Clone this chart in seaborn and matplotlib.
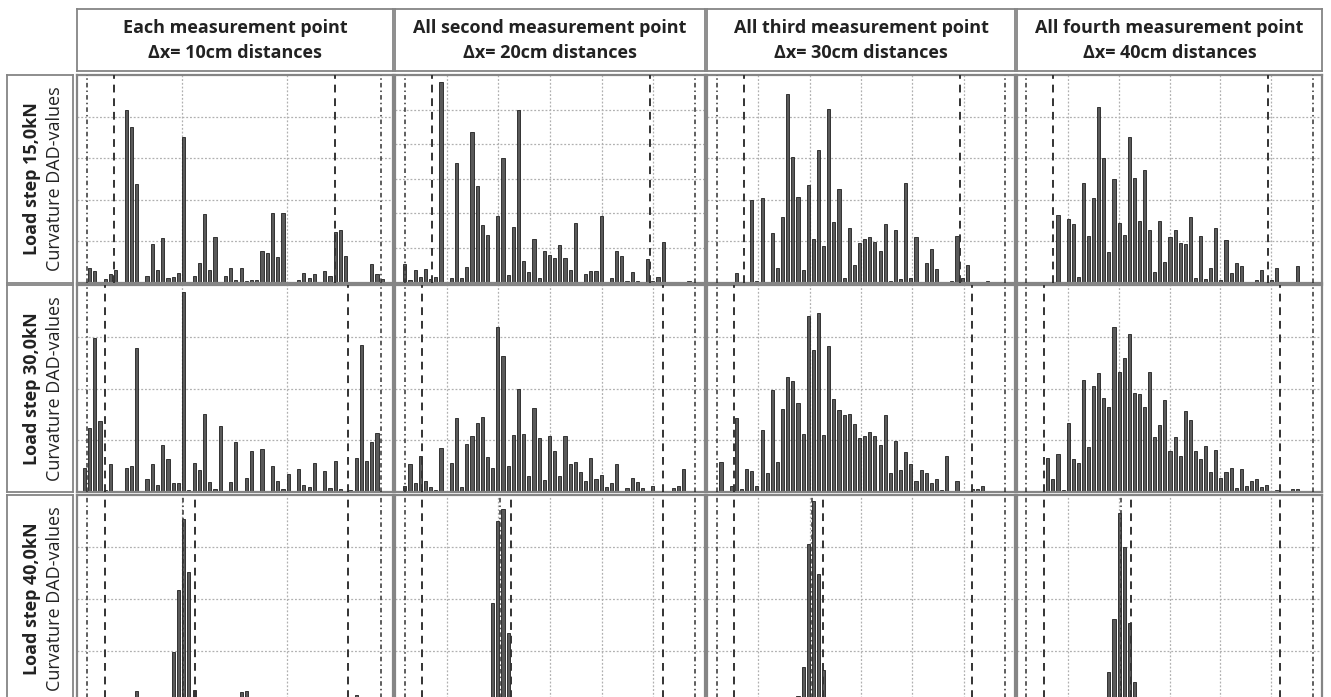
import numpy as np
import pandas as pd
import seaborn as sns
import matplotlib.pyplot as plt

sns.set_theme(style='white')
plt.rcParams['font.family'] = ['Open Sans', 'DejaVu Sans']

col_titles = ['Each measurement point\nΔx= 10cm distances',
              'All second measurement point\nΔx= 20cm distances',
              'All third measurement point\nΔx= 30cm distances',
              'All fourth measurement point\nΔx= 40cm distances']
load_steps = ['Load step 15,0kN', 'Load step 30,0kN', 'Load step 40,0kN']
ylab = 'Curvature DAD-values'

# curvature DAD values, bar by bar
ls15_dx10 = [0.02, 0.36, 0.28, 0, 0.1, 0.2, 0.3, 0, 4.15, 3.74,
             2.37, 0, 0.15, 0.94, 0.3, 1.07, 0.12, 0.14, 0.23, 3.5,
             0, 0.15, 0.48, 1.65, 0.31, 1.1, 0.02, 0.15, 0.36, 0.06,
             0.36, 0.04, 0.06, 0.06, 0.77, 0.72, 1.67, 0.63, 1.67, 0.02,
             0, 0.07, 0.23, 0.11, 0.22, 0, 0.27, 0.15, 1.23, 1.27,
             0.65, 0.02, 0, 0, 0, 0.44, 0.2, 0.1]
ls15_dx20 = [0.55, 0.09, 0.38, 0.16, 0.41, 0.11, 0.16, 5.79, 0, 0.14,
             3.47, 0.13, 0.44, 4.36, 2.79, 1.67, 1.38, 0, 1.92, 3.59,
             0.21, 1.6, 4.99, 0.64, 0.31, 1.25, 0.13, 0.91, 0.79, 0.71,
             1.08, 0.71, 0.36, 1.72, 0, 0.26, 0.34, 0.33, 1.92, 0,
             0.14, 0.91, 0.77, 0.04, 0.31, 0.04, 0, 0.68, 0.04, 0.16,
             1.17, 0, 0, 0, 0, 0.05]
ls15_dx30 = [0.02, 0.02, 0.02, 0.24, 0, 0, 2.0, 0.04, 2.03, 0.02,
             1.19, 0.35, 1.59, 4.54, 3.02, 2.06, 0.3, 2.35, 1.05, 3.19,
             0.89, 4.19, 1.45, 2.25, 0.12, 1.31, 0.43, 0.96, 1.06, 1.1,
             0.98, 0.77, 1.42, 0.04, 1.26, 0.1, 2.39, 0.11, 1.09, 0.02,
             0.48, 0.82, 0.32, 0.02, 0, 0.04, 1.13, 0.11, 0.42, 0.02,
             0, 0, 0.04]
ls15_dx40 = [0.02, 0, 0, 0, 0.02, 1.63, 0.02, 1.54, 1.42, 0.14,
             2.39, 1.13, 2.04, 4.22, 3.0, 0.75, 2.5, 1.44, 1.14, 3.5,
             2.52, 1.49, 2.71, 1.27, 0.25, 1.48, 0.51, 1.1, 1.28, 0.96,
             0.92, 1.59, 0.11, 1.12, 0.1, 0.35, 1.31, 0.06, 1.02, 0.23,
             0.48, 0.4, 0.02, 0.02, 0.06, 0.3, 0, 0.06, 0.36, 0,
             0, 0, 0.39]

ls30_dx10 = [0.46, 1.25, 2.98, 1.37, 0.05, 0.54, 0, 0.03, 0.46, 0.5,
             2.79, 0.01, 0.25, 0.54, 0.15, 0.92, 0.64, 0.17, 0.17, 3.86,
             0.05, 0.57, 0.43, 1.51, 0.2, 0.07, 1.28, 0.02, 0.19, 0.97,
             0.02, 0.27, 0.79, 0.02, 0.83, 0.02, 0.51, 0.21, 0.07, 0.36,
             0, 0.44, 0.14, 0.11, 0.56, 0, 0.41, 0.08, 0.61, 0.06,
             0, 0.04, 0.66, 2.85, 0.61, 0.97, 1.15, 0]
ls30_dx20 = [0.12, 0.55, 0.17, 0.71, 0.22, 0.1, 0.05, 0.85, 0, 0.57,
             1.43, 0.1, 0.94, 1.08, 1.33, 1.45, 0.69, 0.47, 3.18, 2.63,
             0.51, 1.11, 2.0, 1.13, 0.32, 1.63, 1.04, 0.23, 1.08, 0.79,
             0.32, 1.08, 0.55, 0.59, 0.4, 0.22, 0.67, 0.25, 0.33, 0.11,
             0.17, 0.55, 0, 0.09, 0.27, 0.19, 0.08, 0, 0.12, 0,
             0, 0.03, 0.08, 0.12, 0.45, 0]
ls30_dx30 = [0.59, 0.02, 0.12, 1.43, 0.07, 0.45, 0.42, 0.13, 1.21, 0.37,
             1.97, 0.59, 1.61, 2.23, 2.15, 1.72, 1.12, 3.4, 2.74, 3.46,
             1.1, 2.83, 1.8, 1.59, 1.5, 1.51, 1.32, 1.05, 1.08, 1.17,
             1.08, 0.91, 1.5, 0.38, 0.99, 0.43, 0.77, 0.55, 0.21, 0.43,
             0.37, 0.17, 0.25, 0.04, 0.71, 0.03, 0.21, 0, 0.03, 0.06,
             0.06, 0.12, 0, 0, 0.03]
ls30_dx40 = [0, 0, 0.03, 0.66, 0.25, 0.74, 0.05, 1.34, 0.65, 0.57,
             2.16, 0.88, 2.06, 2.3, 1.81, 1.64, 3.19, 2.33, 2.59, 3.05,
             1.92, 1.9, 1.65, 2.33, 1.06, 1.3, 1.79, 0.79, 1.07, 0.7,
             1.57, 1.39, 0.79, 0.65, 0.89, 0.39, 0.81, 0.28, 0.4, 0.47,
             0.08, 0.44, 0.12, 0.21, 0.25, 0.1, 0.14, 0.02, 0.05, 0.03,
             0, 0.07, 0.06]

ls40_dx10 = [0, 0, 0, 0, 0, 0, 0, 0, 0, 0,
             0.23, 0, 0, 0, 0, 0, 0, 0.97, 2.18, 3.53,
             2.51, 0.25, 0, 0, 0, 0, 0, 0, 0, 0,
             0.2, 0.23, 0, 0, 0, 0, 0, 0, 0, 0,
             0, 0, 0, 0, 0, 0, 0, 0, 0, 0,
             0, 0, 0.14, 0, 0, 0, 0, 0]
ls40_dx20 = [0, 0, 0, 0, 0, 0, 0, 0, 0, 0,
             0, 0, 0, 0, 0, 0, 0, 1.92, 3.5, 3.74,
             1.34, 0, 0, 0, 0, 0, 0, 0, 0, 0,
             0, 0, 0, 0, 0, 0, 0, 0, 0, 0,
             0, 0, 0, 0, 0, 0, 0, 0, 0, 0,
             0, 0, 0, 0, 0, 0]
ls40_dx30 = [0, 0, 0, 0, 0, 0, 0, 0, 0, 0,
             0, 0, 0, 0, 0, 0.12, 0.68, 3.05, 3.88, 2.48,
             0.63, 0, 0, 0, 0, 0, 0, 0, 0, 0,
             0, 0, 0, 0, 0, 0, 0, 0, 0, 0,
             0, 0, 0, 0, 0, 0, 0, 0, 0, 0,
             0, 0, 0]
ls40_dx40 = [0, 0, 0, 0, 0, 0, 0, 0, 0, 0,
             0, 0, 0, 0, 0, 0.59, 1.61, 3.65, 2.99, 1.54,
             0.39, 0, 0, 0, 0, 0, 0, 0, 0, 0,
             0, 0, 0, 0, 0, 0, 0, 0, 0, 0,
             0, 0, 0, 0, 0, 0, 0, 0, 0, 0,
             0, 0, 0]

data = [[ls15_dx10, ls15_dx20, ls15_dx30, ls15_dx40],
        [ls30_dx10, ls30_dx20, ls30_dx30, ls30_dx40],
        [ls40_dx10, ls40_dx20, ls40_dx30, ls40_dx40]]
y_max = [[5, 6, 5, 5], [4, 4, 4, 4], [4, 4, 4, 4]]

# marker lines, in bar units counted from the first bar
outer_dashdot = [[0.57, 56.8], [0.0, 56.1], [-0.78, 55.3], [-1.2, 55.1]]
outer_dashed = [[[5.73, 48.0], [5.3, 47.5], [4.54, 46.5], [4.1, 46.3]],
                [[3.95, 50.5], [3.4, 49.9], [2.6, 48.9], [2.2, 48.7]],
                [[3.95, 50.5], [3.4, 49.9], [2.6, 48.9], [2.2, 48.7]]]
peak_lines = [[18.9, 21.1], [18.5, 20.6], [17.7, 19.8], [17.3, 19.4]]

# layout (pixels of the original picture)
W, H = 1331, 697
col_x = [(77, 392.7), (395, 705), (707.3, 1015), (1017.3, 1321.7)]
row_y = [(75, 282.7), (285, 492.3), (495, 702.7)]
head_y = (9.3, 71)
lab_x = (7.3, 73.3)
xlims = [(-1.4, 59.0), (-1.9, 58.1), (-2.67, 57.3), (-3.0, 56.8)]
vgrid = [[18.7, 38.7], np.arange(8.1, 58, 10), np.arange(7.3, 57, 10), np.arange(6.9, 56, 10)]

frame = '#858585'
ink = '#222222'
dashed = (0, (4, 3))
dashdot = (0, (3, 2, 1, 2))


def box(x0, x1, y0, y1):
    return [x0 / W, 1 - y1 / H, (x1 - x0) / W, (y1 - y0) / H]


def frame_it(ax, lw):
    ax.set_xticks([])
    ax.set_yticks([])
    for s in ax.spines.values():
        s.set_color(frame)
        s.set_linewidth(lw)


fig = plt.figure(figsize=(W / 100, H / 100), dpi=100)

# column headers
for c, t in enumerate(col_titles):
    hax = fig.add_axes(box(col_x[c][0], col_x[c][1], *head_y))
    frame_it(hax, 1.3)
    hax.text(0.5, 0.5, t, ha='center', va='center', fontsize=13,
             fontweight='bold', color=ink, linespacing=1.5)

# row labels
for r, t in enumerate(load_steps):
    lax = fig.add_axes(box(lab_x[0], lab_x[1], *row_y[r]))
    frame_it(lax, 1.3)
    lax.text(0.38, 0.5, t, rotation=90, ha='center', va='center',
             fontsize=13, fontweight='bold', color=ink)
    lax.text(0.72, 0.5, ylab, rotation=90, ha='center', va='center',
             fontsize=13, color=ink)

# bar panels
for r in range(3):
    for c in range(4):
        vals = data[r][c]
        df = pd.DataFrame({'pos': np.arange(len(vals)), 'dad': vals})
        ax = fig.add_axes(box(col_x[c][0], col_x[c][1], *row_y[r]))
        sns.barplot(data=df, x='pos', y='dad', native_scale=True, width=0.6,
                    color='#5a5a5a', saturation=1, edgecolor='#1f1f1f',
                    linewidth=0.6, errorbar=None, ax=ax)
        ax.set_xlim(xlims[c])
        ax.set_ylim(0, y_max[r][c])
        ax.set_xticks(vgrid[c])
        ax.set_yticks(np.arange(1, y_max[r][c]))
        ax.grid(True, color='#b0b0b0', ls=(0, (1.5, 1.5)), lw=0.9)
        ax.set_axisbelow(True)
        ax.tick_params(length=0, labelbottom=False, labelleft=False)
        ax.set_xlabel('')
        ax.set_ylabel('')
        for s in ax.spines.values():
            s.set_color(frame)
            s.set_linewidth(1.6)

        for x in outer_dashdot[c]:
            ax.axvline(x, color='#333333', ls=dashdot, lw=1.1, zorder=3)
        for x in outer_dashed[r][c]:
            ax.axvline(x, color='#333333', ls=dashed, lw=1.4, zorder=3)
        if r == 2:
            ax.axvline(peak_lines[c][0], color='#333333', ls=dashdot, lw=1.1, zorder=3)
            ax.axvline(peak_lines[c][1], color='#333333', ls=dashed, lw=1.4, zorder=3)

fig.savefig('out.png', dpi=100)
